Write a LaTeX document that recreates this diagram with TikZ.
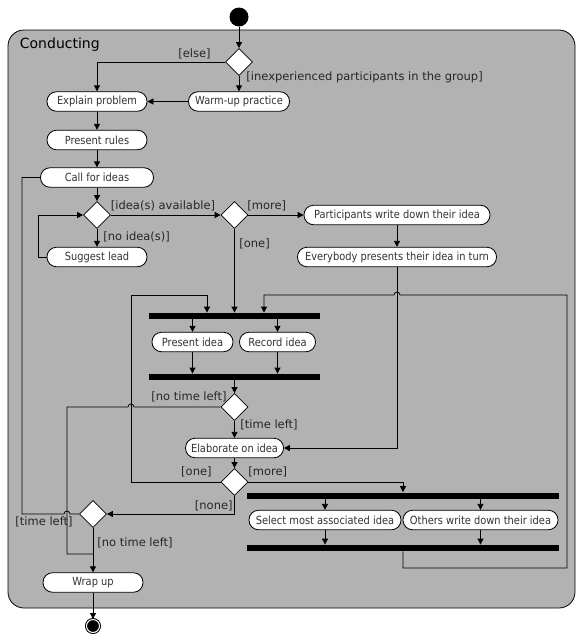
\documentclass[tikz,border=0pt]{standalone}
\usepackage{fontspec}
\setmainfont{DejaVu Sans}
\newfontfamily\actfont[FakeStretch=0.88]{DejaVu Sans}
\usetikzlibrary{arrows.meta,shapes.geometric,calc}

\begin{document}
\begin{tikzpicture}[x=1pt,y=-1pt,line width=0.8pt,
	action/.style={draw,fill=white,rounded corners=9.5pt,minimum height=19.5pt,inner sep=0pt,
		font=\actfont\fontsize{11.2}{13}\selectfont,text=black!80},
	choice/.style={draw,fill=white,diamond,minimum width=27pt,minimum height=27pt,inner sep=0pt},
	syncbar/.style={fill=black,inner sep=0pt,minimum height=6pt},
	guard/.style={inner sep=0pt,font=\fontsize{11.5}{13}\selectfont,text=black!85},
	flow/.style={-{Triangle[length=6pt,width=6pt]}}]
			%%%%% START %%%%%
			\def\xloop{131}
			\def\xout{67}
			\def\xback{22}
			\def\xright{567}
			\def\yloop{295}
			\def\ylow{568}
			\def\bump{3}
			
			\useasboundingbox (0,0) rectangle (577,635);
			\draw[fill=black!30,rounded corners=16pt] (8,30) rectangle (575,608);
			\node[anchor=west,inner sep=0pt,font=\fontsize{14}{16}\selectfont] (title) at (19.5,45) {Conducting};
			
			\node[circle,fill=black,minimum size=19pt,inner sep=0pt] (start) at (239,17) {};
			\node[choice] (d1) at (239,62) {};
			\node[action,minimum width=101pt] (warmup) at (239,101.5) {Warm-up practice};
			\node[action,minimum width=100pt] (explain) at (97,101.5) {Explain problem};
			\node[action,minimum width=100pt] (rules) at (97,140) {Present rules};
			\node[action,minimum width=113pt] (call) at (97,177.5) {Call for ideas};
			\node[choice] (d2) at (97,215) {};
			\node[action,minimum width=100pt] (lead) at (97,257) {Suggest lead};
			\node[choice] (d3) at (234.5,215) {};
			\node[action,minimum width=186pt] (write) at (397,215) {Participants write down their idea};
			\node[action,minimum width=199pt] (everybody) at (397,257) {Everybody presents their idea in turn};
			
			\node[syncbar,minimum width=171pt] (fork1) at (234.5,316) {};
			\node[action,minimum width=81pt] (present) at (192.5,342) {Present idea};
			\node[action,minimum width=76pt] (record) at (277.5,342) {Record idea};
			\node[syncbar,minimum width=171pt] (join1) at (234.5,377) {};
			
			\node[choice] (d4) at (234.5,407) {};
			\node[action,minimum width=98pt] (elab) at (234.5,448) {Elaborate on idea};
			\node[choice] (d5) at (234.5,482) {};
			
			\node[syncbar,minimum width=312pt] (fork2) at (403,495.5) {};
			\node[action,minimum width=152pt] (select) at (325,520) {Select most associated idea};
			\node[action,minimum width=155pt] (others) at (480.5,520) {Others write down their idea};
			\node[syncbar,minimum width=312pt] (join2) at (403,548) {};
			
			\node[choice] (d6) at (93,514) {};
			\node[action,minimum width=100pt] (wrap) at (93,582.5) {Wrap up};
			\node[circle,fill=black,draw,double=white,double distance=1pt,line width=1pt,
				minimum size=13pt,inner sep=0pt] (end) at (93,626) {};
			\coordinate (merge) at (93,554);
			
			\draw[flow] (start) -- (d1);
			\draw[flow] (d1.west) -| (explain.north);
			\draw[flow] (d1) -- (warmup);
			\draw[flow] (warmup) -- (explain);
			\draw[flow] (explain) -- (rules);
			\draw[flow] (rules) -- (call);
			\draw[flow] (call) -- (d2);
			\draw[flow] (d2) -- (d3);
			\draw[flow] (d2) -- (lead);
			\draw[flow] (lead.west) -- ++(-8,0) |- (d2.west);
			\draw[flow] (d3) -- (write);
			\draw[flow] (d3) -- (fork1);
			\draw[flow] (write) -- (everybody);
			\draw[flow] (everybody.south) |- (elab.east);
			
			\draw[flow] (present.north |- fork1.south) -- (present.north);
			\draw[flow] (record.north |- fork1.south) -- (record.north);
			\draw[flow] (present.south) -- (present.south |- join1.north);
			\draw[flow] (record.south) -- (record.south |- join1.north);
			\draw[flow] (join1) -- (d4);
			\draw[flow] (d4) -- (elab);
			\draw[flow] (elab) -- (d5);
			
			\draw (d4.west) -- (\xloop+\bump,407) arc[start angle=0,end angle=-180,radius=\bump] -- (\xout,407) |- (merge);
			\draw[flow] (d5.west) -| (\xloop,\yloop) -| ([xshift=-27.5pt]fork1.north);
			\draw[flow] (d5.east) -| (fork2.north);
			\draw[flow] (d5.south) |- (d6.east);
			\draw (d6.west) -- (\xout+\bump,514) arc[start angle=0,end angle=-180,radius=\bump] -- (\xback,514) |- (call.west);
			\draw[flow] (d6) -- (wrap);
			\draw[flow] (wrap) -- (end);
			
			\draw[flow] (select.north |- fork2.south) -- (select.north);
			\draw[flow] (others.north |- fork2.south) -- (others.north);
			\draw[flow] (select.south) -- (select.south |- join2.north);
			\draw[flow] (others.south) -- (others.south |- join2.north);
			\draw[flow] (join2.south) -- (403,\ylow) -| (\xright,\yloop) -- (397+\bump,\yloop)
				arc[start angle=0,end angle=-180,radius=\bump] -| ([xshift=29.5pt]fork1.north);
			
			\node[guard,anchor=east] (gelse) at (211,54) {[else]};
			\node[guard,anchor=west] (ginexp) at (246,77) {[inexperienced participants in the group]};
			\node[guard] (gavail) at (163,206) {[idea(s) available]};
			\node[guard,anchor=west] (gnoidea) at (103,237) {[no idea(s)]};
			\node[guard,anchor=west] (gmore1) at (247,206) {[more]};
			\node[guard,anchor=west] (gone1) at (239,244) {[one]};
			\node[guard,anchor=east] (gnotime1) at (227,397) {[no time left]};
			\node[guard,anchor=west] (gtime1) at (240,425) {[time left]};
			\node[guard,anchor=east] (gone2) at (212,472) {[one]};
			\node[guard,anchor=west] (gmore2) at (248,472) {[more]};
			\node[guard,anchor=east] (gnone) at (233,506) {[none]};
			\node[guard,anchor=west] (gtime2) at (15,522) {[time left]};
			\node[guard,anchor=west] (gnotime2) at (97,543) {[no time left]};
			%%%%% END %%%%%
\end{tikzpicture}
\end{document}
